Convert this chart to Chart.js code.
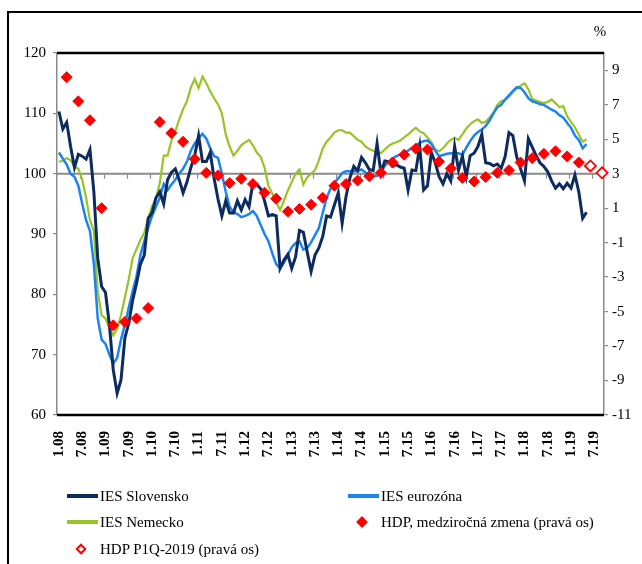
<!DOCTYPE html>
<html>
<head>
<meta charset="utf-8">
<script src="https://cdn.jsdelivr.net/npm/chart.js@4/dist/chart.umd.min.js"></script>
<style>
  html, body { margin: 0; padding: 0; background: #fff; overflow: hidden; }
  #wrap { position: relative; width: 642px; height: 564px; }
  #frame { position: absolute; left: 7px; top: 11px; width: 700px; height: 600px; border: 2px solid #000; pointer-events: none; }
  .lg { position: absolute; font-family: "Liberation Serif", "Times New Roman", serif; font-size: 15px; color: #000; white-space: nowrap; line-height: 18px; }
  .mk { position: absolute; }
</style>
</head>
<body>
<div id="wrap">
  <canvas id="iesChart" width="642" height="564"></canvas>
  <div id="frame"></div>
  <div id="legend"></div>
</div>
<script>
// monthly data, 1.08 .. 5.19
const startYear = 2008;
const monthCount = 141; // 1.08 .. 9.19
const tickLabels = ["1.08", "7.08", "1.09", "7.09", "1.10", "7.10", "1.11", "7.11", "1.12", "7.12",
    "1.13", "7.13", "1.14", "7.14", "1.15", "7.15", "1.16", "7.16", "1.17", "7.17", "1.18", "7.18", "1.19", "7.19"];
const leftTicks = [60, 70, 80, 90, 100, 110, 120];
const rightTicks = [-11, -9, -7, -5, -3, -1, 1, 3, 5, 7, 9];

const iesSlovensko = [
    110.3, 107.4, 108.5, 104.5, 101.0, 103.2, 102.9, 102.4, 104.0, 97.0, 86.0, 81.3,
    80.3, 75.0, 67.5, 63.6, 65.8, 72.8, 75.2, 79.0, 81.8, 85.0, 86.5, 92.6,
    93.5, 96.0, 97.0, 95.0, 99.0, 100.2, 100.8, 99.0, 96.8, 98.6, 101.0, 103.0,
    106.3, 102.0, 102.0, 103.5, 99.2, 95.8, 93.0, 95.5, 93.5, 93.5, 95.5, 94.0,
    95.7, 94.5, 98.5, 98.2, 97.5, 95.5, 93.0, 93.2, 93.0, 84.3, 85.7, 86.6,
    84.3, 86.2, 90.6, 90.3, 87.0, 83.8, 86.5, 87.7, 89.6, 93.0, 92.8, 94.8,
    96.8, 91.8, 96.2, 99.3, 101.2, 100.5, 102.7, 101.8, 100.7, 100.5, 105.0, 100.1,
    102.1, 102.0, 101.2, 101.5, 101.1, 100.9, 97.3, 100.6, 100.5, 104.5, 97.3, 98.0,
    103.5, 101.8, 99.5, 98.3, 100.0, 98.8, 104.5, 100.6, 102.9, 99.5, 103.0, 103.4,
    104.5, 106.5, 101.8, 101.7, 101.3, 101.6, 100.9, 102.8, 106.8, 106.3, 102.8, 100.8,
    98.8, 105.8, 104.4, 103.0, 101.8, 101.2, 100.3, 98.8, 97.6, 98.3, 97.5, 98.4,
    97.6, 99.8, 97.0, 92.6, 93.6
];
const iesEurozona = [
    103.5, 102.5, 101.5, 100.0, 99.5, 98.0, 95.0, 92.3, 90.5, 85.0, 76.0, 72.5,
    71.8, 70.0, 68.5, 69.5, 72.5, 75.0, 77.8, 80.5, 83.0, 86.5, 88.8, 91.0,
    93.0, 94.5, 96.0, 98.3, 97.3, 98.2, 99.0, 100.0, 100.8, 102.0, 103.8, 105.0,
    105.9, 106.6, 105.8, 104.2, 102.9, 102.6, 100.0, 97.0, 94.5, 93.6, 93.3, 92.8,
    93.0, 93.3, 93.8, 93.0, 91.5, 90.0, 88.8, 86.8, 85.0, 84.3, 85.2, 86.5,
    87.8, 88.5, 88.8, 87.4, 87.7, 88.6, 89.8, 91.0, 93.5, 96.0, 97.5, 98.5,
    99.2, 100.1, 100.4, 100.4, 100.4, 100.4, 100.7, 100.2, 99.8, 99.6, 99.6, 100.2,
    101.3, 102.0, 102.5, 102.9, 103.2, 103.5, 103.8, 104.3, 104.7, 105.1, 105.4, 105.5,
    104.9, 103.8, 102.9, 103.1, 103.3, 103.4, 103.4, 103.4, 103.1, 104.3, 105.4, 106.3,
    106.9, 107.3, 107.9, 108.8, 110.0, 111.0, 111.4, 112.3, 113.0, 113.7, 114.3, 114.2,
    113.5, 112.5, 112.0, 111.8, 111.5, 111.4, 111.0, 110.6, 110.3, 109.7, 109.3, 108.4,
    107.6, 106.3, 105.6, 104.2, 104.9
];
const iesNemecko = [
    102.0, 102.1, 102.6, 102.2, 101.2, 100.8, 99.0, 96.0, 92.3, 90.5, 80.5, 76.5,
    76.0, 74.5, 73.2, 74.3, 76.5, 79.5, 82.5, 86.0, 87.5, 89.0, 90.2, 92.6,
    94.6, 95.8, 98.5, 103.0, 103.0, 105.5, 107.0, 109.0, 110.7, 112.0, 114.3, 115.7,
    114.2, 116.1, 115.0, 113.6, 112.5, 111.5, 110.0, 106.5, 104.5, 103.0, 103.8, 104.7,
    105.2, 105.6, 104.7, 103.5, 102.8, 101.0, 98.0, 96.7, 95.3, 94.0, 95.5, 97.2,
    98.6, 100.0, 100.7, 98.2, 99.4, 100.0, 100.6, 102.2, 104.2, 105.3, 106.0, 106.8,
    107.2, 107.2, 106.8, 106.8, 106.2, 105.6, 105.3, 104.5, 104.1, 103.8, 103.6, 103.4,
    104.0, 104.6, 105.0, 105.2, 105.5, 106.0, 106.5, 107.1, 107.6, 107.0, 106.7, 106.0,
    105.2, 104.0, 103.7, 104.2, 105.0, 105.6, 105.9, 105.6, 106.5, 107.5, 108.2, 108.7,
    109.0, 108.4, 108.6, 109.3, 110.1, 111.4, 112.0, 112.2, 112.7, 113.5, 114.2, 114.6,
    115.0, 114.0, 112.4, 112.1, 111.9, 111.7, 111.9, 112.3, 111.7, 111.0, 111.2, 109.5,
    108.6, 107.7, 106.5, 105.3, 105.7
];
// quarterly GDP y/y (%), 1Q08 .. 1Q19, plotted at the last month of each quarter
const hdpRast = [
    8.6, 7.2, 6.1, 1.0, -5.8, -5.6, -5.4, -4.8, 6.0, 5.35, 4.85, 3.85,
    3.05, 2.9, 2.45, 2.7, 2.4, 1.9, 1.55, 0.8, 0.95, 1.2, 1.6, 2.3,
    2.4, 2.6, 2.85, 3.05, 3.65, 4.1, 4.45, 4.4, 3.7, 3.3, 2.75, 2.55,
    2.8, 3.05, 3.2, 3.65, 3.9, 4.15, 4.3, 4.0, 3.65
];
const hdpPrognoza = [3.45, 3.05]; // 2Q19, 3Q19

// build month categories
const months = [];
for (let i = 0; i < monthCount; i++) {
    months.push((i % 12 + 1) + "." + String((startYear + Math.floor(i / 12)) % 100).padStart(2, "0"));
}
function toMonthly(quarterly, firstQuarter) {
    const out = new Array(monthCount).fill(null);
    quarterly.forEach((v, k) => { out[(firstQuarter + k) * 3 + 2] = v; });
    return out;
}

const serif = "'Liberation Serif', 'Times New Roman', serif";

const framePlugin = {
    id: "framePlugin",
    beforeDatasetsDraw(chart) {
        const { ctx, chartArea: a, scales: { x, y } } = chart;
        const y100 = y.getPixelForValue(100);
        const half = (x.getPixelForValue(1) - x.getPixelForValue(0)) / 2;
        ctx.save();
        ctx.strokeStyle = "#8a8a8a";
        ctx.lineWidth = 2;
        ctx.beginPath();
        ctx.moveTo(a.left, y100);
        ctx.lineTo(a.right, y100);
        ctx.stroke();
        ctx.lineWidth = 1.2;
        ctx.beginPath();
        for (let i = 6; i < monthCount; i += 6) {
            const px = Math.round(x.getPixelForValue(i) - half) + 0.5;
            ctx.moveTo(px, y100);
            ctx.lineTo(px, y100 + 5);
        }
        ctx.stroke();
        ctx.restore();
    },
    afterDraw(chart) {
        const { ctx, chartArea: a } = chart;
        ctx.save();
        ctx.strokeStyle = "#000";
        ctx.lineWidth = 2.5;
        ctx.beginPath();
        ctx.moveTo(a.left, a.top);
        ctx.lineTo(a.right, a.top);
        ctx.moveTo(a.left, a.bottom);
        ctx.lineTo(a.right, a.bottom);
        ctx.stroke();
        ctx.fillStyle = "#000";
        ctx.font = "15px " + serif;
        ctx.textAlign = "center";
        ctx.textBaseline = "middle";
        ctx.fillText("%", 600, 32);
        ctx.restore();
    }
};

const ctx = document.getElementById("iesChart").getContext("2d");
const chart = new Chart(ctx, {
    type: "line",
    data: {
        labels: months,
        datasets: [
            {
                label: "IES Slovensko",
                data: iesSlovensko,
                borderColor: "#0d2b5e",
                borderWidth: 3,
                yAxisID: "y",
                order: 1
            },
            {
                label: "IES eurozóna",
                data: iesEurozona,
                borderColor: "#1b84ee",
                borderWidth: 2.5,
                yAxisID: "y",
                order: 2
            },
            {
                label: "IES Nemecko",
                data: iesNemecko,
                borderColor: "#98c424",
                borderWidth: 2.2,
                yAxisID: "y",
                order: 3
            },
            {
                label: "HDP, medziročná zmena (pravá os)",
                data: toMonthly(hdpRast, 0),
                showLine: false,
                pointStyle: "rectRot",
                pointRadius: 5.5,
                pointBackgroundColor: "#ff0000",
                pointBorderColor: "#ff0000",
                pointBorderWidth: 1,
                yAxisID: "y2",
                order: 0
            },
            {
                label: "HDP P1Q-2019 (pravá os)",
                data: toMonthly(hdpPrognoza, hdpRast.length),
                showLine: false,
                pointStyle: "rectRot",
                pointRadius: 5.5,
                pointBackgroundColor: "#ffffff",
                pointBorderColor: "#ff0000",
                pointBorderWidth: 1.8,
                yAxisID: "y2",
                order: 0
            }
        ]
    },
    options: {
        responsive: false,
        animation: false,
        events: [],
        layout: { padding: { top: 53, left: 0, right: 0, bottom: 0 } },
        elements: {
            line: { tension: 0, fill: false },
            point: { radius: 0, hoverRadius: 0 }
        },
        plugins: {
            legend: { display: false },
            tooltip: { enabled: false }
        },
        scales: {
            x: {
                type: "category",
                offset: true,
                grid: { display: false },
                border: { display: false },
                afterFit: s => { s.height = 149; },
                ticks: {
                    autoSkip: false,
                    minRotation: 90,
                    maxRotation: 90,
                    padding: 8,
                    color: "#000",
                    font: { family: serif, size: 15, weight: "bold" },
                    callback: function (val) {
                        const l = this.getLabelForValue(val);
                        return tickLabels.includes(l) ? l : "";
                    }
                }
            },
            y: {
                position: "left",
                min: 60,
                max: 120,
                afterFit: s => { s.width = 57; },
                afterBuildTicks: s => { s.ticks = leftTicks.map(v => ({ value: v })); },
                grid: { drawOnChartArea: false, drawTicks: true, tickLength: 4, color: "#8a8a8a", lineWidth: 1.2 },
                border: { color: "#8a8a8a", width: 1.5 },
                ticks: { padding: 7, color: "#000", font: { family: serif, size: 15 } }
            },
            y2: {
                position: "right",
                min: -11,
                max: 10,
                afterFit: s => { s.width = 38; },
                afterBuildTicks: s => { s.ticks = rightTicks.map(v => ({ value: v })); },
                grid: { drawOnChartArea: false, drawTicks: true, tickLength: 4, color: "#8a8a8a", lineWidth: 1.2 },
                border: { color: "#8a8a8a", width: 1.5 },
                ticks: { padding: 4, color: "#000", font: { family: serif, size: 15 } }
            }
        }
    },
    plugins: [framePlugin]
});

// legend in two columns, like the original
const legendSpots = [
    { ds: 0, x: 67, y: 496 },
    { ds: 1, x: 348, y: 496 },
    { ds: 2, x: 67, y: 522 },
    { ds: 3, x: 348, y: 522 },
    { ds: 4, x: 67, y: 549 }
];
const legendBox = document.getElementById("legend");
legendSpots.forEach(spot => {
    const ds = chart.data.datasets[spot.ds];
    const mk = document.createElement("div");
    mk.className = "mk";
    if (ds.showLine === false) {
        mk.style.left = (spot.x + 10) + "px";
        mk.style.top = (spot.y - 4) + "px";
        mk.style.width = "8px";
        mk.style.height = "8px";
        mk.style.transform = "rotate(45deg)";
        mk.style.boxSizing = "border-box";
        mk.style.background = ds.pointBackgroundColor;
        mk.style.border = "2px solid " + ds.pointBorderColor;
    } else {
        mk.style.left = spot.x + "px";
        mk.style.top = (spot.y - 2) + "px";
        mk.style.width = "31px";
        mk.style.height = "4px";
        mk.style.background = ds.borderColor;
    }
    legendBox.appendChild(mk);
    const t = document.createElement("div");
    t.className = "lg";
    t.style.fontFamily = serif;
    t.textContent = ds.label;
    t.style.left = (spot.x + 33) + "px";
    t.style.top = (spot.y - 9) + "px";
    legendBox.appendChild(t);
});
</script>
</body>
</html>
